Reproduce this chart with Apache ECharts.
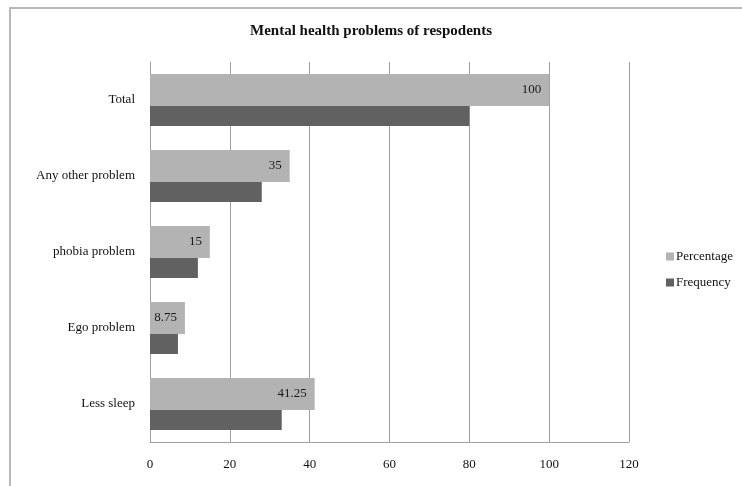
<!DOCTYPE html>
<html>
<head>
<meta charset="utf-8">
<script src="https://cdn.jsdelivr.net/npm/echarts@6/dist/echarts.min.js"></script>
<style>html,body{margin:0;padding:0;background:#fff;}#c{width:742px;height:486px;}</style>
</head>
<body>
<div id="c"></div>
<script>
var categories = ['Less sleep', 'Ego problem', 'phobia problem', 'Any other problem', 'Total'];
var percentage = [41.25, 8.75, 15, 35, 100];
var frequency = [33, 7, 12, 28, 80];
var xTicks = [0, 20, 40, 60, 80, 100, 120];

var font = '"Liberation Serif", "Times New Roman", serif';
var chart = echarts.init(document.getElementById('c'));
chart.setOption({
  animation: false,
  backgroundColor: '#fff',
  title: {
    text: 'Mental health problems of respodents',
    left: 'center', top: 19,
    textStyle: { fontFamily: font, fontSize: 15, fontWeight: 'bold', color: '#111' }
  },
  graphic: [{
    type: 'rect', silent: true,
    shape: { x: 10, y: 8, width: 780, height: 520 },
    style: { fill: 'none', stroke: '#b8b8b8', lineWidth: 2 }
  }],
  legend: {
    orient: 'vertical', left: 661, top: 245, itemWidth: 8, itemHeight: 8, itemGap: 13,
    icon: 'rect',
    data: ['Percentage', 'Frequency'],
    textStyle: { fontFamily: font, fontSize: 13, color: '#111', padding: [0, 0, 0, -3] }
  },
  grid: { left: 150, right: 113, top: 62, bottom: 44 },
  xAxis: {
    type: 'value', min: 0, max: 120, interval: 20,
    axisLine: { show: true, lineStyle: { color: '#a0a0a0', width: 1 } },
    axisTick: { show: false },
    splitLine: { show: true, lineStyle: { color: '#a0a0a0', width: 1 } },
    axisLabel: { margin: 16, fontFamily: font, fontSize: 13, color: '#111',
      formatter: function (v) { return xTicks.indexOf(v) >= 0 ? String(v) : ''; } }
  },
  yAxis: {
    type: 'category', data: categories,
    axisLine: { show: true, lineStyle: { color: '#a0a0a0', width: 1 } },
    axisTick: { show: false },
    axisLabel: { margin: 15, fontFamily: font, fontSize: 13, color: '#111' }
  },
  series: [
    {
      name: 'Percentage', type: 'bar', data: percentage, barWidth: 32, barGap: '0%',
      itemStyle: { color: '#b3b3b3' },
      label: { show: true, position: 'insideRight', distance: 8, fontFamily: font, fontSize: 13, color: '#1a1a1a' }
    },
    {
      name: 'Frequency', type: 'bar', data: frequency, barWidth: 20, barGap: '0%',
      itemStyle: { color: '#616161' }
    }
  ]
});
</script>
</body>
</html>
